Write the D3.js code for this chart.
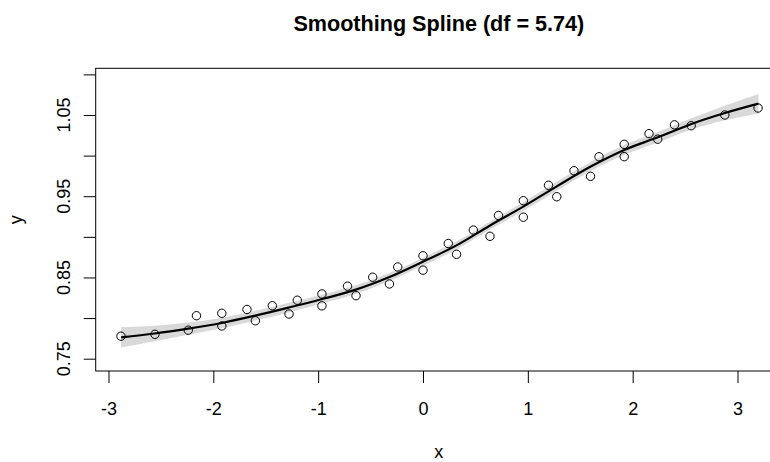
<!DOCTYPE html>
<html>
<head>
<meta charset="utf-8">
<script src="https://cdn.jsdelivr.net/npm/d3@7"></script>
<style>
  html, body { margin: 0; padding: 0; background: #ffffff; }
  svg { display: block; }
  text { font-family: "Liberation Sans", Arial, sans-serif; fill: #000; }
</style>
</head>
<body>
<svg id="chart" width="770" height="462"></svg>
<script>
// ---- data ----
const pointX = [-2.881, -2.557, -2.239, -2.161, -1.919, -1.919, -1.679, -1.599, -1.437, -1.278,
                -1.199, -0.964, -0.964, -0.720, -0.639, -0.480, -0.320, -0.241, 0.000, 0.000,
                0.241, 0.320, 0.480, 0.639, 0.720, 0.957, 0.957, 1.197, 1.276, 1.440,
                1.598, 1.679, 1.919, 1.919, 2.156, 2.239, 2.399, 2.558, 2.879, 3.196];
const pointY = [0.7777, 0.7800, 0.7851, 0.8029, 0.8059, 0.7903, 0.8106, 0.7967, 0.8152, 0.8050,
                0.8220, 0.8297, 0.8151, 0.8393, 0.8276, 0.8503, 0.8420, 0.8629, 0.8767, 0.8590,
                0.8918, 0.8785, 0.9084, 0.9007, 0.9263, 0.9445, 0.9242, 0.9635, 0.9494, 0.9814,
                0.9745, 0.9986, 1.0139, 0.9987, 1.0270, 1.0202, 1.0379, 1.0368, 1.0500, 1.0586];

const fitX = [-2.88, -2.56, -2.24, -1.92, -1.60, -1.28, -0.96, -0.64, -0.32, 0.00,
              0.32, 0.64, 0.96, 1.28, 1.60, 1.92, 2.24, 2.56, 2.88, 3.20];
const fitY = [0.7763, 0.7810, 0.7870, 0.7940, 0.8030, 0.8130, 0.8235, 0.8350, 0.8505, 0.8694,
              0.8895, 0.9140, 0.9375, 0.9625, 0.9866, 1.0070, 1.0225, 1.0390, 1.0525, 1.0640];
const fitSE = [0.0125, 0.0095, 0.0075, 0.0065, 0.0060, 0.0060, 0.0055, 0.0055, 0.0050, 0.0050,
               0.0050, 0.0050, 0.0055, 0.0055, 0.0055, 0.0060, 0.0065, 0.0070, 0.0090, 0.0120];

const xTicks = [-3, -2, -1, 0, 1, 2, 3];
const yTicks = [0.75, 0.80, 0.85, 0.90, 0.95, 1.00, 1.05, 1.10];
const yTickLabels = ["0.75", "", "0.85", "", "0.95", "", "1.05", ""];
const titleText = "Smoothing Spline (df = 5.74)";

// ---- layout ----
const svg = d3.select("#chart");
const box = { left: 95.7, right: 782, top: 68.3, bottom: 371 };
const x = d3.scaleLinear().domain([-3, 3]).range([108.5, 737.5]);
const y = d3.scaleLinear().domain([0.75, 1.05]).range([358.7, 115]);
const FS = 18;

const fit = fitX.map((v, i) => ({ x: v, y: fitY[i], se: fitSE[i] }));

// confidence band
svg.append("path")
  .datum(fit)
  .attr("d", d3.area()
    .x(d => x(d.x))
    .y0(d => y(d.y - d.se))
    .y1(d => y(d.y + d.se))
    .curve(d3.curveCatmullRom.alpha(0.5)))
  .attr("fill", "#d9d9d9")
  .attr("stroke", "none");

// fitted line
svg.append("path")
  .datum(fit)
  .attr("d", d3.line()
    .x(d => x(d.x))
    .y(d => y(d.y))
    .curve(d3.curveCatmullRom.alpha(0.5)))
  .attr("fill", "none")
  .attr("stroke", "#000")
  .attr("stroke-width", 2.2);

// points
svg.append("g")
  .selectAll("circle")
  .data(pointX.map((v, i) => ({ x: v, y: pointY[i] })))
  .join("circle")
  .attr("cx", d => x(d.x))
  .attr("cy", d => y(d.y))
  .attr("r", 4.2)
  .attr("fill", "none")
  .attr("stroke", "#000")
  .attr("stroke-width", 1);

// box
svg.append("rect")
  .attr("x", box.left).attr("y", box.top)
  .attr("width", box.right - box.left).attr("height", box.bottom - box.top)
  .attr("fill", "none").attr("stroke", "#000").attr("stroke-width", 1);

// x axis
const xAxis = svg.append("g")
  .attr("transform", `translate(0,${box.bottom})`)
  .call(d3.axisBottom(x).tickValues(xTicks).tickSize(12).tickPadding(19)
    .tickFormat(d => d3.format("d")(d).replace("−", "-")));
xAxis.select(".domain").remove();
xAxis.selectAll("line").attr("stroke", "#000");
xAxis.selectAll("text").attr("font-size", FS).attr("font-family", "Liberation Sans, Arial, sans-serif").attr("fill", "#000");

// y axis
const yAxis = svg.append("g")
  .attr("transform", `translate(${box.left},0)`)
  .call(d3.axisLeft(y).tickValues(yTicks).tickSize(12).tickFormat(""));
yAxis.select(".domain").remove();
yAxis.selectAll("line").attr("stroke", "#000");

svg.append("g").selectAll("text")
  .data(yTicks.map((v, i) => ({ v, label: yTickLabels[i] })).filter(d => d.label))
  .join("text")
  .attr("transform", d => `translate(70,${y(d.v)}) rotate(-90)`)
  .attr("text-anchor", "middle")
  .attr("font-size", FS)
  .text(d => d.label);

// axis titles
svg.append("text")
  .attr("x", (box.left + box.right) / 2).attr("y", 458)
  .attr("text-anchor", "middle").attr("font-size", FS)
  .text("x");
svg.append("text")
  .attr("transform", `translate(22,${(box.top + box.bottom) / 2}) rotate(-90)`)
  .attr("text-anchor", "middle").attr("font-size", FS)
  .text("y");

// title
svg.append("text")
  .attr("x", (box.left + box.right) / 2).attr("y", 30.5)
  .attr("text-anchor", "middle").attr("font-size", FS * 1.2).attr("font-weight", "bold")
  .text(titleText);
</script>
</body>
</html>
